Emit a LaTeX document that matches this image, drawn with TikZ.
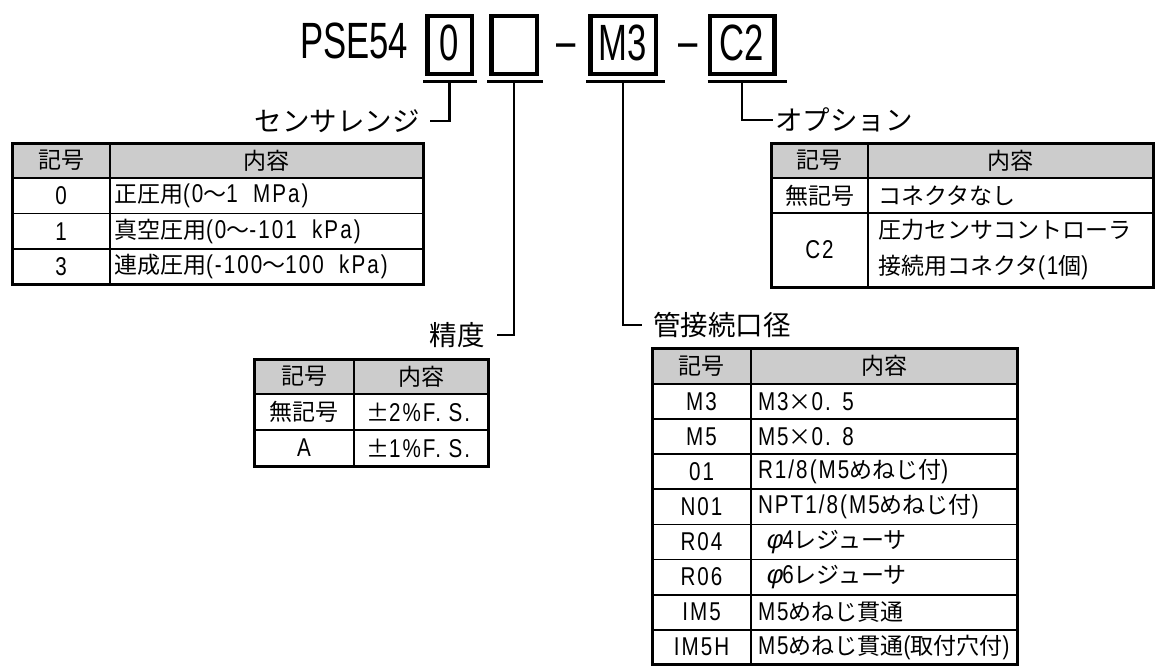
\documentclass[tikz,border=0pt]{standalone}
\usepackage{fontspec}
\setmainfont{Noto Sans CJK JP}
\newfontfamily\hwfont[FakeStretch=0.8,Scale=1.12,LetterSpace=8]{Liberation Sans}
\newfontfamily\hdfont[FakeStretch=0.68]{Liberation Sans}
\newfontfamily\phfont[FakeSlant=0.2,Scale=1.12]{Liberation Sans}
\newcommand\hw[1]{{\hwfont #1}}
\newcommand\tabfont{\fontsize{23pt}{36pt}\selectfont}
\usetikzlibrary{positioning}

\begin{document}
\begin{tikzpicture}[x=1pt,y=-1pt]

\tikzstyle{cbox} = [rectangle, draw=black, line width=4.5pt, minimum height=58pt, inner sep=0pt, font={\fontsize{51pt}{51pt}\selectfont\hdfont}]
\tikzstyle{code} = [inner sep=0pt, font={\fontsize{51pt}{51pt}\selectfont\hdfont}]
\tikzstyle{uline} = [line width=3pt]
\tikzstyle{conn} = [line width=2.4pt]
\tikzstyle{lbl} = [inner ysep=0pt, font=\fontsize{27.5pt}{30pt}\selectfont]
\tikzstyle{hd} = [rectangle, draw=black, fill=gray!40, line width=1.8pt, outer sep=0pt, inner sep=0pt, minimum height=35pt, font=\tabfont]
\tikzstyle{cd} = [rectangle, draw=black, line width=1.8pt, outer sep=0pt, inner sep=0pt, minimum height=35.5pt, font=\tabfont]
\tikzstyle{ct} = [cd, inner xsep=4pt, align=left]
\tikzstyle{frame} = [line width=3pt]

\useasboundingbox (0,0) rectangle (1155,666);

% model code
\node (pse) [code, anchor=base west] at (300,59) {PSE54};
\node (b0) [cbox, minimum width=44.5pt] at (449.5,44.8) {\raisebox{4pt}{0}};
\node (b1) [cbox, minimum width=45.5pt] at (514,44.8) {};
\node (d1) [code, anchor=base] at (566.5,59) {–};
\node (b2) [cbox, minimum width=65.5pt] at (623,44.8) {\raisebox{4pt}{M3}};
\node (d2) [code, anchor=base] at (688,59) {–};
\node (b3) [cbox, minimum width=64.5pt] at (742,44.8) {\raisebox{4pt}{C2}};

\draw[uline] ([xshift=-2pt,yshift=-5pt]b0.south west) -- ([xshift=3pt,yshift=-5pt]b0.south east);
\draw[uline] ([xshift=-2pt,yshift=-5pt]b1.south west) -- ([xshift=4pt,yshift=-5pt]b1.south east);
\draw[uline] ([xshift=-2pt,yshift=-5pt]b2.south west) -- ([xshift=7pt,yshift=-5pt]b2.south east);
\draw[uline] ([yshift=-5pt]b3.south west) -- ([xshift=10pt,yshift=-5pt]b3.south east);
\coordinate (u0) at ([yshift=-5pt]b0.south);
\coordinate (u1) at ([yshift=-5pt]b1.south);
\coordinate (u2) at ([yshift=-5pt]b2.south);
\coordinate (u3) at ([yshift=-5pt]b3.south);

% labels
\node (sensor) [lbl, anchor=east, inner xsep=10pt] at (430,121) {センサレンジ};
\node (prec) [lbl, anchor=east, inner xsep=12pt] at (497,335) {精度};
\node (port) [lbl, anchor=west, inner xsep=11pt] at (642,325) {管接続口径};
\node (opt) [lbl, anchor=west, inner xsep=2pt] at (773,120) {オプション};
\draw[conn] (u0) |- (sensor.east);
\draw[conn] (u1) |- (prec.east);
\draw[conn] (u2) |- (port.west);
\draw[conn] (u3) |- (opt.west);

% sensor range
\node (lk) [hd, minimum width=98pt, anchor=north west] at (12,143) {記号};
\node (lc) [hd, minimum width=313pt, right=0pt of lk] {内容};
\node (lk0) [cd, minimum width=98pt, below=0pt of lk] {\hw{0}};
\node (lc0) [ct, text width=305pt, right=0pt of lk0] {正圧用\hw{(0}～\hw{1 \ MPa)}};
\node (lk1) [cd, minimum width=98pt, below=0pt of lk0] {\hw{1}};
\node (lc1) [ct, text width=305pt, right=0pt of lk1] {真空圧用\hw{(0}～\hw{-101 \ kPa)}};
\node (lk2) [cd, minimum width=98pt, below=0pt of lk1] {\hw{3}};
\node (lc2) [ct, text width=305pt, right=0pt of lk2] {連成圧用\hw{(-100}～\hw{100 \ kPa)}};
\draw[frame] (lk.north west) rectangle (lc2.south east);

% accuracy
\node (mk) [hd, minimum width=100pt, anchor=north west] at (254,359) {記号};
\node (mc) [hd, minimum width=134pt, right=0pt of mk] {内容};
\node (mk0) [cd, minimum width=100pt, minimum height=36pt, below=0pt of mk] {無記号};
\node (mc0) [ct, inner xsep=12pt, text width=110pt, minimum height=36pt, right=0pt of mk0] {±\hw{2\%F. S.}};
\node (mk1) [cd, minimum width=100pt, minimum height=36pt, below=0pt of mk0] {\hw{A}};
\node (mc1) [ct, inner xsep=12pt, text width=110pt, minimum height=36pt, right=0pt of mk1] {±\hw{1\%F. S.}};
\draw[frame] (mk.north west) rectangle (mc1.south east);

% option
\node (ok) [hd, minimum width=97pt, anchor=north west] at (771,143) {記号};
\node (oc) [hd, minimum width=285pt, right=0pt of ok] {内容};
\node (ok0) [cd, minimum width=97pt, minimum height=35pt, below=0pt of ok] {無記号};
\node (oc0) [ct, inner xsep=10pt, text width=265pt, minimum height=35pt, right=0pt of ok0] {コネクタなし};
\node (ok1) [cd, minimum width=97pt, minimum height=74pt, below=0pt of ok0] {\hw{C2}};
\node (oc1) [ct, inner xsep=10pt, text width=265pt, minimum height=74pt, right=0pt of ok1] {圧力センサコントローラ\\接続用コネクタ\hw{(1}個\hw{)}};
\draw[frame] (ok.north west) rectangle (oc1.south east);

% port size
\node (pk) [hd, minimum width=99pt, minimum height=36pt, anchor=north west] at (652,348) {記号};
\node (pc) [hd, minimum width=266pt, minimum height=36pt, right=0pt of pk] {内容};
\node (pk0) [cd, minimum width=99pt, minimum height=35.1pt, below=0pt of pk] {\hw{M3}};
\node (pc0) [ct, inner xsep=7pt, text width=252pt, minimum height=35.1pt, right=0pt of pk0] {\hw{M3}×\hw{0. 5}};
\node (pk1) [cd, minimum width=99pt, minimum height=35.1pt, below=0pt of pk0] {\hw{M5}};
\node (pc1) [ct, inner xsep=7pt, text width=252pt, minimum height=35.1pt, right=0pt of pk1] {\hw{M5}×\hw{0. 8}};
\node (pk2) [cd, minimum width=99pt, minimum height=35.1pt, below=0pt of pk1] {\hw{01}};
\node (pc2) [ct, inner xsep=7pt, text width=252pt, minimum height=35.1pt, right=0pt of pk2] {\hw{R1/8(M5}めねじ付\hw{)}};
\node (pk3) [cd, minimum width=99pt, minimum height=35.1pt, below=0pt of pk2] {\hw{N01}};
\node (pc3) [ct, inner xsep=7pt, text width=252pt, minimum height=35.1pt, right=0pt of pk3] {\hw{NPT1/8(M5}めねじ付\hw{)}};
\node (pk4) [cd, minimum width=99pt, minimum height=35.1pt, below=0pt of pk3] {\hw{R04}};
\node (pc4) [ct, inner xsep=7pt, text width=252pt, minimum height=35.1pt, right=0pt of pk4] {\ {\phfont φ}\hw{4}レジューサ};
\node (pk5) [cd, minimum width=99pt, minimum height=35.1pt, below=0pt of pk4] {\hw{R06}};
\node (pc5) [ct, inner xsep=7pt, text width=252pt, minimum height=35.1pt, right=0pt of pk5] {\ {\phfont φ}\hw{6}レジューサ};
\node (pk6) [cd, minimum width=99pt, minimum height=35.1pt, below=0pt of pk5] {\hw{IM5}};
\node (pc6) [ct, inner xsep=7pt, text width=252pt, minimum height=35.1pt, right=0pt of pk6] {\hw{M5}めねじ貫通};
\node (pk7) [cd, minimum width=99pt, minimum height=35.1pt, below=0pt of pk6] {\hw{IM5H}};
\node (pc7) [ct, inner xsep=7pt, text width=252pt, minimum height=35.1pt, right=0pt of pk7] {\hw{M5}めねじ貫通\hw{(}取付穴付\hw{)}};
\draw[frame] (pk.north west) rectangle (pc7.south east);

\end{tikzpicture}
\end{document}
